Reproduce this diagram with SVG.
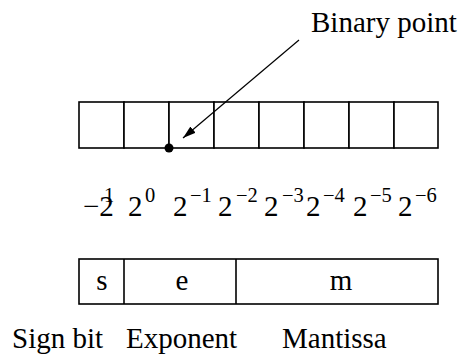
<svg xmlns="http://www.w3.org/2000/svg" width="460" height="358" viewBox="0 0 460 358">
<style>
text{font-family:"Liberation Serif","Times New Roman",serif;fill:#000}
.big{font-size:29px}
.sup{font-size:20.5px}
.cell{fill:#fff;stroke:#000;stroke-width:1.6}
.conn{stroke:#000;stroke-width:1.2;fill:none}
</style>
<defs>
<marker id="ah" viewBox="0 0 13 8" refX="13" refY="4" markerWidth="13" markerHeight="8" markerUnits="userSpaceOnUse" orient="auto">
<path d="M0,0 L13,4 L0,8 Z" fill="#000"/>
</marker>
</defs>
<g id="register">
<rect class="cell" x="79" y="102" width="45" height="46"/>
<rect class="cell" x="124" y="102" width="45" height="46"/>
<rect class="cell" x="169" y="102" width="45" height="46"/>
<rect class="cell" x="214" y="102" width="45" height="46"/>
<rect class="cell" x="259" y="102" width="45" height="46"/>
<rect class="cell" x="304" y="102" width="45" height="46"/>
<rect class="cell" x="349" y="102" width="45" height="46"/>
<rect class="cell" x="394" y="102" width="44" height="46"/>
</g>
<g id="point">
<circle cx="169" cy="148" r="4.5" fill="#000"/>
</g>
<g id="label-binary-point">
<text class="big" x="311" y="32">Binary point</text>
</g>
<g id="connectors">
<line class="conn" x1="299" y1="40" x2="183" y2="138" marker-end="url(#ah)"/>
</g>
<g id="weights">
<text class="big" x="83" y="216">−2</text>
<text class="sup" x="104" y="202">1</text>
<text class="big" x="128" y="216">2</text>
<text class="sup" x="145" y="202">0</text>
<text class="big" x="173" y="216">2</text>
<text class="sup" x="190" y="202">−1</text>
<text class="big" x="218" y="216">2</text>
<text class="sup" x="236" y="202">−2</text>
<text class="big" x="264" y="216">2</text>
<text class="sup" x="282" y="202">−3</text>
<text class="big" x="306" y="216">2</text>
<text class="sup" x="323" y="202">−4</text>
<text class="big" x="353" y="216">2</text>
<text class="sup" x="370" y="202">−5</text>
<text class="big" x="398" y="216">2</text>
<text class="sup" x="415" y="202">−6</text>
</g>
<g id="format">
<rect class="cell" x="79" y="259" width="359" height="45"/>
<line class="conn" x1="124" y1="259" x2="124" y2="304" style="stroke-width:1.6"/>
<line class="conn" x1="236" y1="259" x2="236" y2="304" style="stroke-width:1.6"/>
<text class="big" x="102" y="290" text-anchor="middle">s</text>
<text class="big" x="182" y="290" text-anchor="middle">e</text>
<text class="big" x="341" y="290" text-anchor="middle">m</text>
</g>
<g id="labels">
<text class="big" x="12" y="348">Sign bit</text>
<text class="big" x="126" y="348">Exponent</text>
<text class="big" x="282" y="348">Mantissa</text>
</g>
</svg>
